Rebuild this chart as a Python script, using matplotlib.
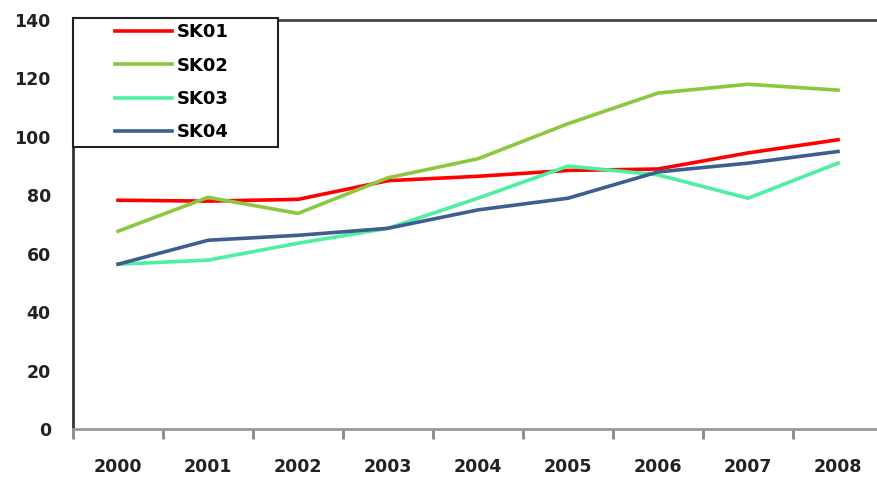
import matplotlib
matplotlib.use("Agg")
import matplotlib.pyplot as plt
from matplotlib.patches import Rectangle

years = ["2000", "2001", "2002", "2003", "2004", "2005", "2006", "2007", "2008"]
sk01 = [78.3, 78.0, 78.6, 85.0, 86.5, 88.5, 89.0, 94.5, 99.0]
sk02 = [67.7, 79.3, 73.8, 86.0, 92.5, 104.5, 115.0, 118.0, 116.0]
sk03 = [56.4, 57.8, 63.6, 68.7, 79.0, 90.0, 87.0, 79.0, 91.0]
sk04 = [56.4, 64.6, 66.3, 68.7, 75.0, 79.0, 88.0, 91.0, 95.0]
yticks = [0, 20, 40, 60, 80, 100, 120, 140]

series = [("SK01", sk01, "#FF0000"), ("SK02", sk02, "#8DC63F"),
          ("SK03", sk03, "#4DEFA0"), ("SK04", sk04, "#3D5E8E")]

fig = plt.figure(figsize=(8.77, 4.8), dpi=100)
ax = fig.add_axes([73/877, 1-429/480, (883-73)/877, (429-20)/480])
x = list(range(len(years)))
for name, vals, col in series:
    ax.plot(x, vals, color=col, lw=2.6, label=name, solid_joinstyle="round")

ax.set_xlim(-0.5, len(years)-0.5)
ax.set_ylim(0, 140)
ax.set_yticks(yticks)
ax.set_yticklabels([str(v) for v in yticks], fontsize=12.5, fontweight="bold", color="#222222")
ax.tick_params(axis="y", length=0, pad=16)
ax.set_xticks([i + 0.5 for i in range(-1, len(years))], minor=False)
ax.set_xticklabels([])
ax.tick_params(axis="x", which="major", length=7, width=2, color="#888888", direction="out")
ax.set_xticks(x, minor=True)
ax.set_xticklabels(years, minor=True, fontsize=12.5, fontweight="bold", color="#222222")
ax.tick_params(axis="x", which="minor", length=0, pad=21)

ax.spines["left"].set_color("#333333")
ax.spines["left"].set_linewidth(2)
ax.spines["bottom"].set_color("#999999")
ax.spines["bottom"].set_linewidth(2)
ax.spines["top"].set_color("#444444")
ax.spines["top"].set_linewidth(2)
ax.spines["right"].set_visible(False)

# legend box
box = Rectangle((0.0, 0.689), 0.253, 1.005 - 0.689, transform=ax.transAxes,
                facecolor="white", edgecolor="#222222", lw=1.5, zorder=5, clip_on=False)
ax.add_patch(box)
leg = ax.legend(loc="upper left", bbox_to_anchor=(0.052, 0.992), frameon=False,
                prop={"weight": "bold", "size": 13}, handlelength=3.15, handletextpad=0.25,
                labelspacing=0.85, borderpad=0.0, borderaxespad=0.0)
leg.set_zorder(6)

fig.savefig("out.png", dpi=100)
